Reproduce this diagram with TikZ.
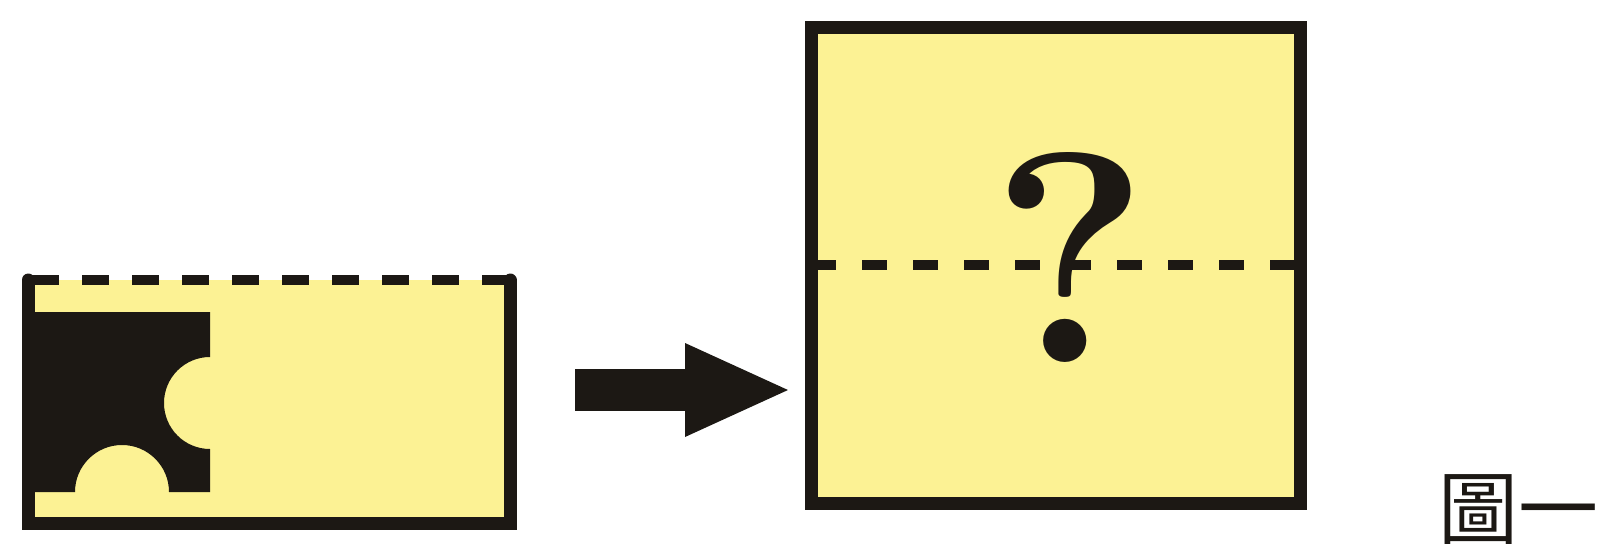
\documentclass[tikz,border=0pt]{standalone}
\usepackage{fontspec}
\newfontfamily\cjk{Noto Sans CJK TC}
\usetikzlibrary{arrows.meta}
\definecolor{paper}{RGB}{252,242,148}
\definecolor{ink}{RGB}{28,24,20}
\tikzset{
    frame/.style={draw=ink, line width=6.5pt, line join=miter},
    fold/.style={draw=ink, line width=5pt, dash pattern=on 13.5pt off 11.5pt},
    fatarrow/.style={draw=ink, line width=21pt, -{Triangle[length=53.5pt,width=42.5pt]}}
}
\begin{document}
\begin{tikzpicture}[x=0.5pt, y=0.5pt]
            \useasboundingbox (0,0) rectangle (1603,543);
            % folded strip
            \fill[paper] (28,20) rectangle (510,263);
            \fill[ink] (28,231) -- (210,231) -- (210,186) arc (90:270:46) -- (210,51) -- (169,51) arc (0:180:47) -- (28,51) -- cycle;
            \draw[frame, line cap=round] (28,263) -- (28,20) -- (510,20) -- (510,263);
            \draw[fold] (32,263) -- (510,263);
            % unfolded square
            \draw[frame, fill=paper] (811,40) rectangle (1300,516);
            \draw[fold, dash pattern=on 12.5pt off 13pt] (811,278) -- (1300,278);
            \node[font=\fontsize{150}{150}\selectfont\bfseries, text=ink, inner sep=0, anchor=base] (query) at (1070,181) {?};
            % arrow
            \coordinate (tail) at (575,153);
            \coordinate (head) at (792,153);
            \draw[fatarrow] (tail) -- (head);
            \node[font=\cjk\fontsize{40}{40}\selectfont, text=ink, inner sep=0, anchor=base west] (caption) at (1438,5) {圖一};
        \end{tikzpicture}
\end{document}
